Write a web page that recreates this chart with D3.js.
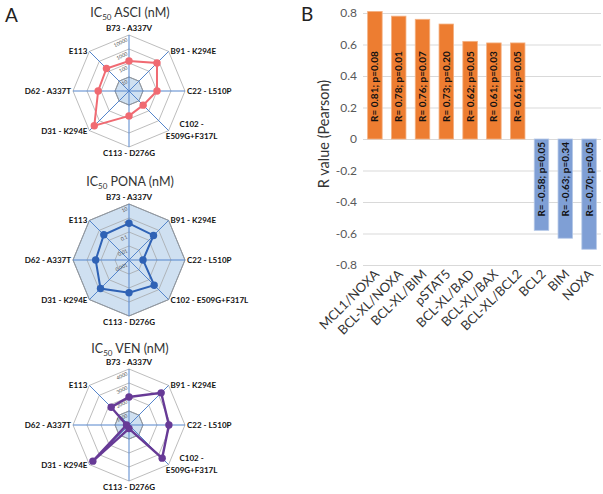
<!DOCTYPE html>
<html>
<head>
<meta charset="utf-8">
<script src="https://cdn.jsdelivr.net/npm/d3@7"></script>
<style>
  body { margin: 0; background: #fff; }
  svg { display: block; }
  text { font-family: Lato, "Liberation Sans", sans-serif; }
</style>
</head>
<body>
<svg id="chart" width="603" height="494"></svg>
<script>
// radar data (panel A)
const radarAxes = ["B73 - A337V", "B91 - K294E", "C22 - L510P", "C102 - E509G+F317L",
  "C113 - D276G", "D31 - K294E", "D62 - A337T", "E113"];
const asciValues = [140, 670, 100, 27, 60, 3200, 160, 190];
const ponaValues = [0.42, 0.3, 0.01, 0.35, 0.22, 0.76, 0.24, 0.35];
const venValues = [2000, 3250, 2850, 3350, 250, 3650, 180, 1800];
const asciTicks = [10, 100, 1000, 10000];
const ponaTicks = [0.001, 0.01, 0.1, 1, 10];
const venTicks = [1000, 2000, 3000, 4000];

// bar data (panel B)
const barLabels = ["MCL1/NOXA", "BCL-XL/NOXA", "BCL-XL/BIM", "pSTAT5", "BCL-XL/BAD",
  "BCL-XL/BAX", "BCL-XL/BCL2", "BCL2", "BIM", "NOXA"];
const rValues = [0.81, 0.78, 0.76, 0.73, 0.62, 0.61, 0.61, -0.58, -0.63, -0.70];
const pValues = ["0.08", "0.01", "0.07", "0.20", "0.05", "0.03", "0.05", "0.05", "0.34", "0.05"];
const yTicks = [-0.8, -0.6, -0.4, -0.2, 0, 0.2, 0.4, 0.6, 0.8];

const svg = d3.select("#chart");
const R = 56;

svg.append("text").attr("x", 5).attr("y", 22).attr("font-size", 19).attr("fill", "#222").text("A");
svg.append("text").attr("x", 301).attr("y", 21).attr("font-size", 19).attr("fill", "#222").text("B");

function drawRadar(o) {
  let g = svg.append("g");
  let pt = (i, r) => {
    let a = i * Math.PI / 4;
    return [o.cx + r * Math.sin(a), o.cy - r * Math.cos(a)];
  };
  let octagon = (r) => d3.range(8).map((i) => pt(i, r));
  let closed = d3.line().curve(d3.curveLinearClosed);

  // title with subscript
  let t = g.append("text").attr("x", o.cx + 1).attr("y", o.ty)
    .attr("text-anchor", "middle").attr("font-size", 12.5).attr("fill", "#333");
  t.append("tspan").text("IC");
  t.append("tspan").attr("font-size", 8).attr("dy", 3).text("50");
  t.append("tspan").attr("dy", -3).text(" " + o.title);

  // reference area
  g.append("path").attr("d", closed(octagon(o.scale(o.ref))))
    .attr("fill", "#cfe0f1").attr("stroke", "#56677c").attr("stroke-width", 0.8);

  // rings
  o.ticks.forEach((tk) => {
    g.append("path").attr("d", closed(octagon(o.scale(tk))))
      .attr("fill", "none").attr("stroke", "#a0a0a0").attr("stroke-width", 0.7);
  });

  // spokes
  d3.range(8).forEach((i) => {
    let p = pt(i, R);
    g.append("line").attr("x1", o.cx).attr("y1", o.cy).attr("x2", p[0]).attr("y2", p[1])
      .attr("stroke", "#5485cc").attr("stroke-width", 1);
  });

  // tick labels
  o.ticks.forEach((tk) => {
    let y = o.cy - o.scale(tk) + 6;
    g.append("text").attr("text-anchor", "end").attr("font-size", 5).attr("fill", "#555")
      .attr("transform", "translate(" + (o.cx - 1) + "," + y + ") rotate(-25)")
      .text(tk);
  });

  // data line
  let pts = o.values.map((v, i) => pt(i, o.scale(v)));
  g.append("path").attr("d", closed(pts)).attr("fill", "none")
    .attr("stroke", o.color).attr("stroke-width", o.lw);
  g.selectAll(".dot").data(pts).enter().append("circle")
    .attr("cx", (d) => d[0]).attr("cy", (d) => d[1]).attr("r", 3.7).attr("fill", o.color);

  // axis labels
  radarAxes.forEach((lab, i) => {
    let a = i * Math.PI / 4;
    let s = Math.sin(a), c = Math.cos(a);
    let p = pt(i, R);
    let anchor = s > 0.1 ? "start" : s < -0.1 ? "end" : "middle";
    let dx = s > 0.1 ? 2 : s < -0.1 ? -2 : 0;
    let dy = c > 0.9 ? -4 : c < -0.9 ? 9 : 3;
    let txt = g.append("text").attr("font-size", 8).attr("font-weight", "bold").attr("fill", "#111");
    if (i === 3 && o.wrap) {
      txt.attr("text-anchor", "middle");
      txt.append("tspan").attr("x", p[0] + 23).attr("y", p[1] - 4).text("C102 -");
      txt.append("tspan").attr("x", p[0] + 23).attr("y", p[1] + 8).text("E509G+F317L");
    } else {
      txt.attr("text-anchor", anchor).attr("x", p[0] + dx).attr("y", p[1] + dy).text(lab);
    }
  });
}

drawRadar({
  cx: 129, cy: 91, ty: 17, title: "ASCI (nM)", values: asciValues, ticks: asciTicks,
  ref: 10, scale: d3.scaleLog().domain([1, 10000]).range([0, R]),
  color: "#f06a72", lw: 2, wrap: true,
});
drawRadar({
  cx: 129, cy: 260, ty: 186, title: "PONA (nM)", values: ponaValues, ticks: ponaTicks,
  ref: 10, scale: d3.scaleLog().domain([0.001, 10]).range([0, R]),
  color: "#2f62b5", lw: 2, wrap: false,
});
drawRadar({
  cx: 129, cy: 425, ty: 353, title: "VEN (nM)", values: venValues, ticks: venTicks,
  ref: 1000, scale: d3.scaleLinear().domain([0, 4000]).range([0, R]),
  color: "#673a96", lw: 2.4, wrap: true,
});

// bar chart
const left = 363, right = 601;
let x = d3.scaleBand().domain(barLabels).range([left, right]).paddingInner(0.39).paddingOuter(0.195);
let y = d3.scaleLinear().domain([-0.8, 0.8]).range([265, 13]);

let yAxis = svg.append("g").attr("transform", "translate(" + left + ",0)")
  .call(d3.axisLeft(y).tickValues(yTicks).tickSize(-(right - left)).tickPadding(6)
    .tickFormat((d) => (d === 0 ? "0" : d.toFixed(1))));
yAxis.select(".domain").remove();
yAxis.selectAll("line").attr("stroke", "#d9d9d9");
yAxis.selectAll("text").attr("font-size", 12).attr("fill", "#595959")
  .style("font-family", "Lato, sans-serif");

svg.selectAll(".bar").data(rValues).enter().append("rect")
  .attr("x", (d, i) => x(barLabels[i]))
  .attr("width", x.bandwidth())
  .attr("y", (d) => y(Math.max(d, 0)))
  .attr("height", (d) => Math.abs(y(d) - y(0)))
  .attr("fill", (d) => (d > 0 ? "#ed7d31" : "#7f9fd5"))
  .attr("stroke", (d) => (d > 0 ? "#f4b183" : "#b4c7e7"))
  .attr("stroke-width", 0.8);

svg.selectAll(".blab").data(rValues).enter().append("text")
  .attr("transform", (d, i) => {
    let cx = x(barLabels[i]) + x.bandwidth() / 2;
    let yy = d > 0 ? y(0) - 17 : y(0) + 3;
    return "translate(" + cx + "," + yy + ") rotate(-90)";
  })
  .attr("text-anchor", (d) => (d > 0 ? "start" : "end"))
  .attr("dy", "0.35em")
  .attr("font-size", 10).attr("font-weight", "bold").attr("fill", "#111")
  .text((d, i) => "R= " + d.toFixed(2) + "; p=" + pValues[i]);

svg.selectAll(".xlab").data(barLabels).enter().append("text")
  .attr("transform", (d) => "translate(" + (x(d) + x.bandwidth() / 2 + 5) + ",275) rotate(-45)")
  .attr("text-anchor", "end").attr("font-size", 13).attr("fill", "#333")
  .text((d) => d);

svg.append("text").attr("transform", "translate(324,134) rotate(-90)")
  .attr("text-anchor", "middle").attr("dy", "0.35em").attr("font-size", 14.5).attr("fill", "#333")
  .text("R value (Pearson)");
</script>
</body>
</html>
